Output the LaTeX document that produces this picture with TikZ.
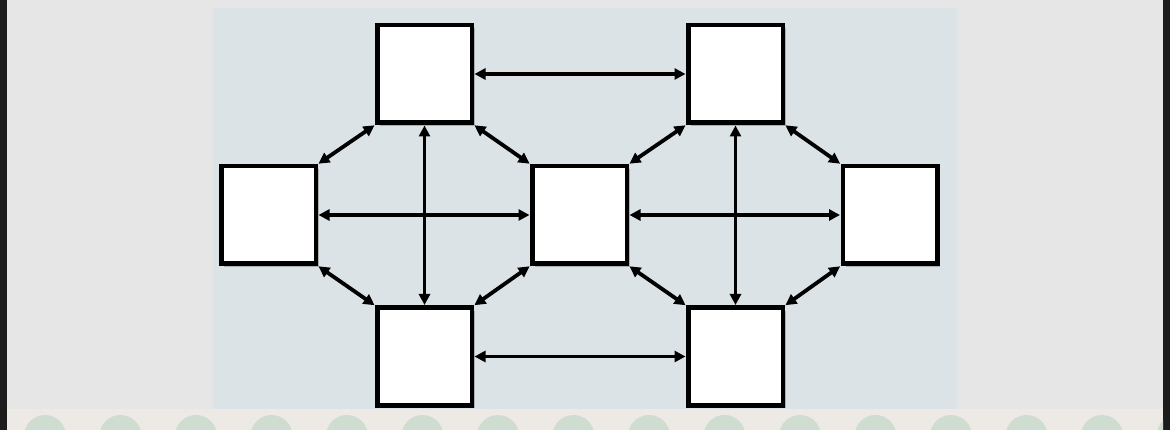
\documentclass[tikz,border=0pt]{standalone}
\usetikzlibrary{arrows.meta,shadows}
\definecolor{pagebg}{HTML}{E6E6E6}
\definecolor{panelbg}{HTML}{DCE3E7}
\definecolor{stripbg}{HTML}{EDEAE6}
\definecolor{dotgreen}{HTML}{CFDDD0}
\definecolor{edgedark}{HTML}{1C1C1C}
\definecolor{shadowgray}{HTML}{8A8E90}
\tikzset{
  boxnode/.style={draw=black, fill=white, line width=4.5pt, minimum width=94.5pt, minimum height=97.5pt, inner sep=0pt,
    drop shadow={shadow xshift=3pt, shadow yshift=-3pt, fill=shadowgray, opacity=0.6}},
  link/.style={line width=3.8pt, {Triangle[length=11pt,width=11pt]}-{Triangle[length=11pt,width=11pt]}, shorten <=0.5pt, shorten >=0.5pt}
}
\begin{document}
\begin{tikzpicture}[x=1pt,y=-1pt]
\useasboundingbox (0,0) rectangle (1170,430);
% backgrounds
\fill[pagebg] (0,0) rectangle (1170,430);
\fill[edgedark] (0,0) rectangle (7,430);
\fill[edgedark] (1163,0) rectangle (1170,430);
\fill[stripbg] (7,409) rectangle (1163,430);
\begin{scope}
  \clip (7,409) rectangle (1163,430);
  \foreach \i in {0,...,15} {
    \fill[dotgreen] (45+75.5*\i,436) circle (21);
  }
\end{scope}
\fill[panelbg] (213,8) rectangle (957,409);
% boxes
\node[boxnode] (tl) at (424.5,74) {};
\node[boxnode] (tr) at (735.5,74) {};
\node[boxnode] (l) at (268.5,215) {};
\node[boxnode] (m) at (579.5,215) {};
\node[boxnode] (r) at (890,215) {};
\node[boxnode] (bl) at (424.5,356.5) {};
\node[boxnode] (br) at (735.5,356.5) {};
% links
\draw[link] (tl.east) -- (tr.west);
\draw[link] (bl.east) -- (br.west);
\draw[link] (l.east) -- (m.west);
\draw[link] (m.east) -- (r.west);
\draw[link] (tl.south) -- (bl.north);
\draw[link] (tr.south) -- (br.north);
\draw[link] (tl.south west) -- (l.north east);
\draw[link] (tl.south east) -- (m.north west);
\draw[link] (l.south east) -- (bl.north west);
\draw[link] (bl.north east) -- (m.south west);
\draw[link] (tr.south west) -- (m.north east);
\draw[link] (tr.south east) -- (r.north west);
\draw[link] (m.south east) -- (br.north west);
\draw[link] (br.north east) -- (r.south west);
\end{tikzpicture}
\end{document}
